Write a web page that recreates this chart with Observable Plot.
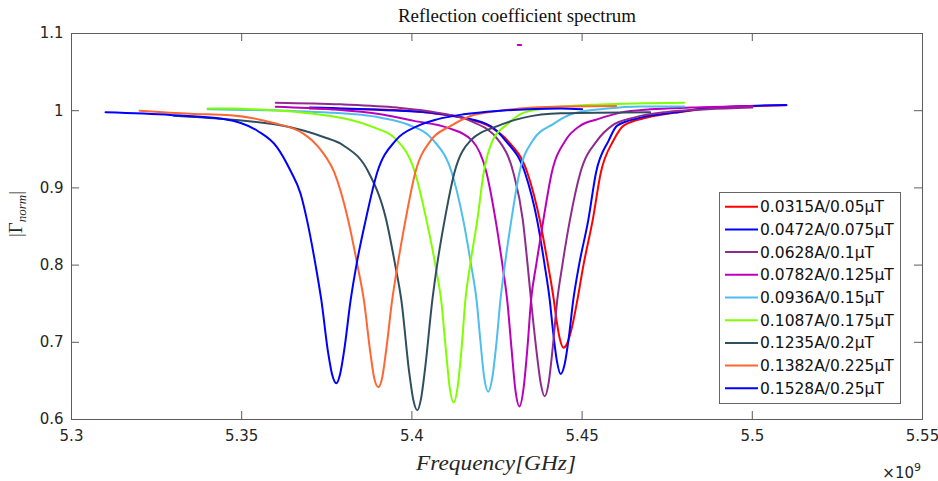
<!DOCTYPE html>
<html><head><meta charset="utf-8">
<script src="https://cdn.jsdelivr.net/npm/d3@7"></script>
<script src="https://cdn.jsdelivr.net/npm/@observablehq/plot@0.6"></script>
<style>html,body{margin:0;padding:0;background:#fff;overflow:hidden}</style>
</head><body><div id="chart"></div>
<script>
// ---- data ----
const titleText = "Reflection coefficient spectrum";
const xTicks = [5.3, 5.35, 5.4, 5.45, 5.5, 5.55];
const yTicks = [0.6, 0.7, 0.8, 0.9, 1.0, 1.1];
const xDomain = [5.3, 5.55];
const yDomain = [0.6, 1.1];
const seriesNames = ["0.0315A/0.05μT","0.0472A/0.075μT","0.0628A/0.1μT","0.0782A/0.125μT","0.0936A/0.15μT","0.1087A/0.175μT","0.1235A/0.2μT","0.1382A/0.225μT","0.1528A/0.25μT"];
const seriesColors = ["#FF0000","#0000FF","#8E2C8E","#BB00BB","#4DBEEE","#7FFF00","#2F4F5F","#FF6633","#0000FF"];

const fRed = [5.37,5.3908,5.4055,5.4152,5.4231,5.4281,5.4339,5.4376,5.4400,5.4417,5.4422,5.4434,5.4445,5.4457,5.4469,5.4486,5.4504,5.4531,5.4555,5.4592,5.4622,5.4691,5.4789,5.4907,5.51];
const vRed = [1.003,1.0015,0.997,0.9905,0.979,0.9613,0.92,0.8579,0.80,0.7545,0.7377,0.7055,0.693,0.6994,0.7171,0.7545,0.80,0.8579,0.92,0.9613,0.9807,0.991,0.9984,1.004,1.007];

const fBlue2 = [5.37,5.3908,5.4055,5.4152,5.4231,5.4275,5.4332,5.4368,5.4390,5.4405,5.4414,5.4426,5.4437,5.4449,5.4461,5.4474,5.4491,5.4518,5.4541,5.4578,5.4603,5.4672,5.4769,5.4887,5.51];
const vBlue2 = [1.004,1.001,0.9975,0.991,0.980,0.9613,0.92,0.8579,0.80,0.7545,0.7171,0.6757,0.659,0.6722,0.7064,0.7545,0.80,0.8579,0.92,0.9613,0.9807,0.991,0.9975,1.004,1.0074];

const fPurple = [5.36,5.3790,5.3957,5.4074,5.4172,5.4255,5.4298,5.4326,5.4340,5.4350,5.4367,5.4379,5.4390,5.4402,5.4414,5.4427,5.4442,5.4464,5.4495,5.4544,5.4588,5.4652,5.4750,5.4868,5.50];
const vPurple = [1.0104,1.0082,1.004,0.9975,0.9868,0.9613,0.92,0.8579,0.80,0.7545,0.6851,0.6455,0.630,0.6485,0.6944,0.7545,0.80,0.8579,0.92,0.9613,0.9807,0.991,0.9984,1.0018,1.004];

const fMagenta = [5.36,5.3761,5.3908,5.4006,5.4104,5.4177,5.4219,5.4246,5.4266,5.4280,5.4293,5.4304,5.4316,5.4328,5.4340,5.4350,5.4365,5.4386,5.4411,5.4451,5.4495,5.4544,5.4613,5.4701,5.4818,5.50];
const vMagenta = [1.0052,1.0018,0.9953,0.9868,0.978,0.9613,0.92,0.8579,0.80,0.7545,0.6903,0.6384,0.617,0.6404,0.6963,0.7545,0.80,0.8579,0.92,0.9613,0.9807,0.9888,0.9975,1.0018,1.004,1.0061];

const fLightBlue = [5.34,5.3761,5.3908,5.3986,5.4064,5.4117,5.4151,5.4174,5.4190,5.4201,5.4212,5.4224,5.4236,5.4248,5.4260,5.4273,5.4292,5.4316,5.4355,5.4416,5.4476,5.4574,5.4672,5.48];
const vLightBlue = [1.002,0.9975,0.991,0.9824,0.9613,0.92,0.8579,0.80,0.7545,0.703,0.6554,0.636,0.6536,0.6976,0.7545,0.80,0.8579,0.92,0.9613,0.983,0.9966,1.0027,1.0053,1.0056];

const fGreen = [5.34,5.3467,5.3761,5.3878,5.3957,5.4009,5.4043,5.4069,5.4086,5.4100,5.4111,5.4123,5.4135,5.4147,5.4157,5.4171,5.4192,5.4211,5.4237,5.4280,5.4329,5.4437,5.4554,5.48];
const vGreen = [1.003,1.0027,0.9932,0.980,0.9613,0.92,0.8579,0.80,0.7545,0.6894,0.6414,0.622,0.6443,0.6979,0.7545,0.80,0.8579,0.92,0.9613,0.9824,0.9975,1.005,1.008,1.0104];

const fSlate = [5.33,5.3447,5.3643,5.3740,5.3799,5.3873,5.3925,5.3951,5.3969,5.3992,5.4004,5.4016,5.4027,5.4039,5.4060,5.4074,5.4096,5.4125,5.4172,5.4251,5.4329,5.4437,5.47];
const vSlate = [0.9936,0.9893,0.9785,0.966,0.955,0.92,0.8579,0.80,0.7545,0.6614,0.6257,0.612,0.6274,0.667,0.7545,0.80,0.8579,0.92,0.9613,0.980,0.991,0.9966,0.998];

const fOrange = [5.32,5.3350,5.3467,5.3585,5.3682,5.3707,5.3741,5.3772,5.3813,5.3840,5.3859,5.3878,5.3889,5.3901,5.3913,5.3924,5.3942,5.3958,5.3981,5.4010,5.4055,5.4113,5.4172,5.4251,5.4437,5.46];
const vOrange = [1.0,0.996,0.994,0.985,0.970,0.9613,0.944,0.92,0.8579,0.80,0.7545,0.6863,0.6542,0.642,0.6548,0.6884,0.7545,0.80,0.8579,0.92,0.9613,0.980,0.9932,0.9997,1.0053,1.006];

const fBlue = [5.31,5.3291,5.3447,5.3546,5.3604,5.3643,5.3673,5.3692,5.3717,5.3734,5.3754,5.3766,5.3778,5.3789,5.3801,5.3820,5.3837,5.3864,5.3898,5.3952,5.4016,5.4074,5.4152,5.4251,5.4437,5.45];
const vBlue = [0.998,0.9945,0.9893,0.974,0.9526,0.9225,0.8924,0.8579,0.80,0.7545,0.6863,0.6577,0.647,0.6587,0.6895,0.7545,0.80,0.8579,0.92,0.9613,0.980,0.9888,0.9953,0.9997,1.0027,1.002];

// stray magenta mark near the top of the axes
const fStray = [5.4311, 5.4321];
const vStray = [1.085, 1.085];

const seriesFreq = [fRed, fBlue2, fPurple, fMagenta, fLightBlue, fGreen, fSlate, fOrange, fBlue];
const seriesVal  = [vRed, vBlue2, vPurple, vMagenta, vLightBlue, vGreen, vSlate, vOrange, vBlue];

// ---- layout ----
const W = 938, H = 481;
const mL = 71, mR = 16, mT = 33, mB = 62;
const frameW = W - mL - mR, frameH = H - mT - mB;
const tickLen = 8;
const axisColor = "#5c5c5c";

const rows = [];
seriesNames.forEach((name, i) => seriesFreq[i].forEach((f, j) => rows.push({name, f, v: seriesVal[i][j]})));
const strayRows = fStray.map((f, i) => ({f, v: vStray[i]}));

const plot = Plot.plot({
  width: W, height: H,
  marginLeft: mL, marginRight: mR, marginTop: mT, marginBottom: mB,
  style: {fontFamily: "DejaVu Sans", fontSize: "15px", color: "#262626", background: "white", overflow: "visible"},
  x: {domain: xDomain, label: null},
  y: {domain: yDomain, label: null},
  color: {type: "ordinal", domain: seriesNames, range: seriesColors},
  marks: [
    Plot.line(rows, {x: "f", y: "v", z: "name", stroke: "name", strokeWidth: 2, curve: "monotone-x"}),
    Plot.line(strayRows, {x: "f", y: "v", stroke: seriesColors[3], strokeWidth: 2}),
    Plot.frame({stroke: axisColor}),
    Plot.tickX(xTicks, {x: d => d, insetTop: frameH - tickLen, stroke: axisColor}),
    Plot.tickX(xTicks, {x: d => d, insetBottom: frameH - tickLen, stroke: axisColor}),
    Plot.tickY(yTicks, {y: d => d, insetRight: frameW - tickLen, stroke: axisColor}),
    Plot.tickY(yTicks, {y: d => d, insetLeft: frameW - tickLen, stroke: axisColor}),
    Plot.axisX({ticks: xTicks, tickSize: 0, tickPadding: 11, tickFormat: d => String(+d.toFixed(2)), label: null}),
    Plot.axisY({ticks: yTicks, tickSize: 0, tickPadding: 8, tickFormat: d => String(+d.toFixed(1)), label: null})
  ]
});
document.getElementById("chart").appendChild(plot);

const svg = d3.select(plot);
// title
svg.append("text").attr("x", 517).attr("y", 22).attr("text-anchor", "middle")
  .attr("font-family", "Liberation Serif").attr("font-size", 19).attr("fill", "#111")
  .attr("textLength", 238).attr("lengthAdjust", "spacingAndGlyphs")
  .text(titleText);
// x label
svg.append("text").attr("x", 496).attr("y", 470).attr("text-anchor", "middle")
  .attr("font-family", "Liberation Serif").attr("font-style", "italic").attr("font-size", 22).attr("fill", "#262626")
  .attr("textLength", 160).attr("lengthAdjust", "spacingAndGlyphs")
  .text("Frequency[GHz]");
// exponent
const ex = svg.append("text").attr("x", 921).attr("y", 478).attr("text-anchor", "end")
  .attr("font-family", "DejaVu Sans").attr("font-size", 15).attr("fill", "#262626");
ex.append("tspan").text("×10");
ex.append("tspan").attr("dy", -7).attr("font-size", 11).text("9");
// y label
const yl = svg.append("text").attr("transform", "translate(22,214) rotate(-90)").attr("text-anchor", "middle")
  .attr("font-family", "Liberation Serif").attr("font-size", 19).attr("fill", "#262626");
yl.append("tspan").text("|Γ");
yl.append("tspan").attr("font-style", "italic").attr("font-size", 13).attr("dy", 4).text("norm");
yl.append("tspan").attr("dy", -4).text("|");
// legend
const lg = svg.append("g");
lg.append("rect").attr("x", 719.5).attr("y", 192.5).attr("width", 181).attr("height", 211)
  .attr("fill", "white").attr("stroke", "#666");
seriesNames.forEach((n, i) => {
  const y = 206.7 + i * 22.7;
  lg.append("line").attr("x1", 725).attr("x2", 758).attr("y1", y).attr("y2", y)
    .attr("stroke", seriesColors[i]).attr("stroke-width", 2);
  lg.append("text").attr("x", 760).attr("y", y).attr("dy", "0.36em").attr("text-anchor", "start")
    .attr("font-family", "DejaVu Sans").attr("font-size", 15.5).attr("fill", "#111").text(n);
});
</script>
</body></html>
